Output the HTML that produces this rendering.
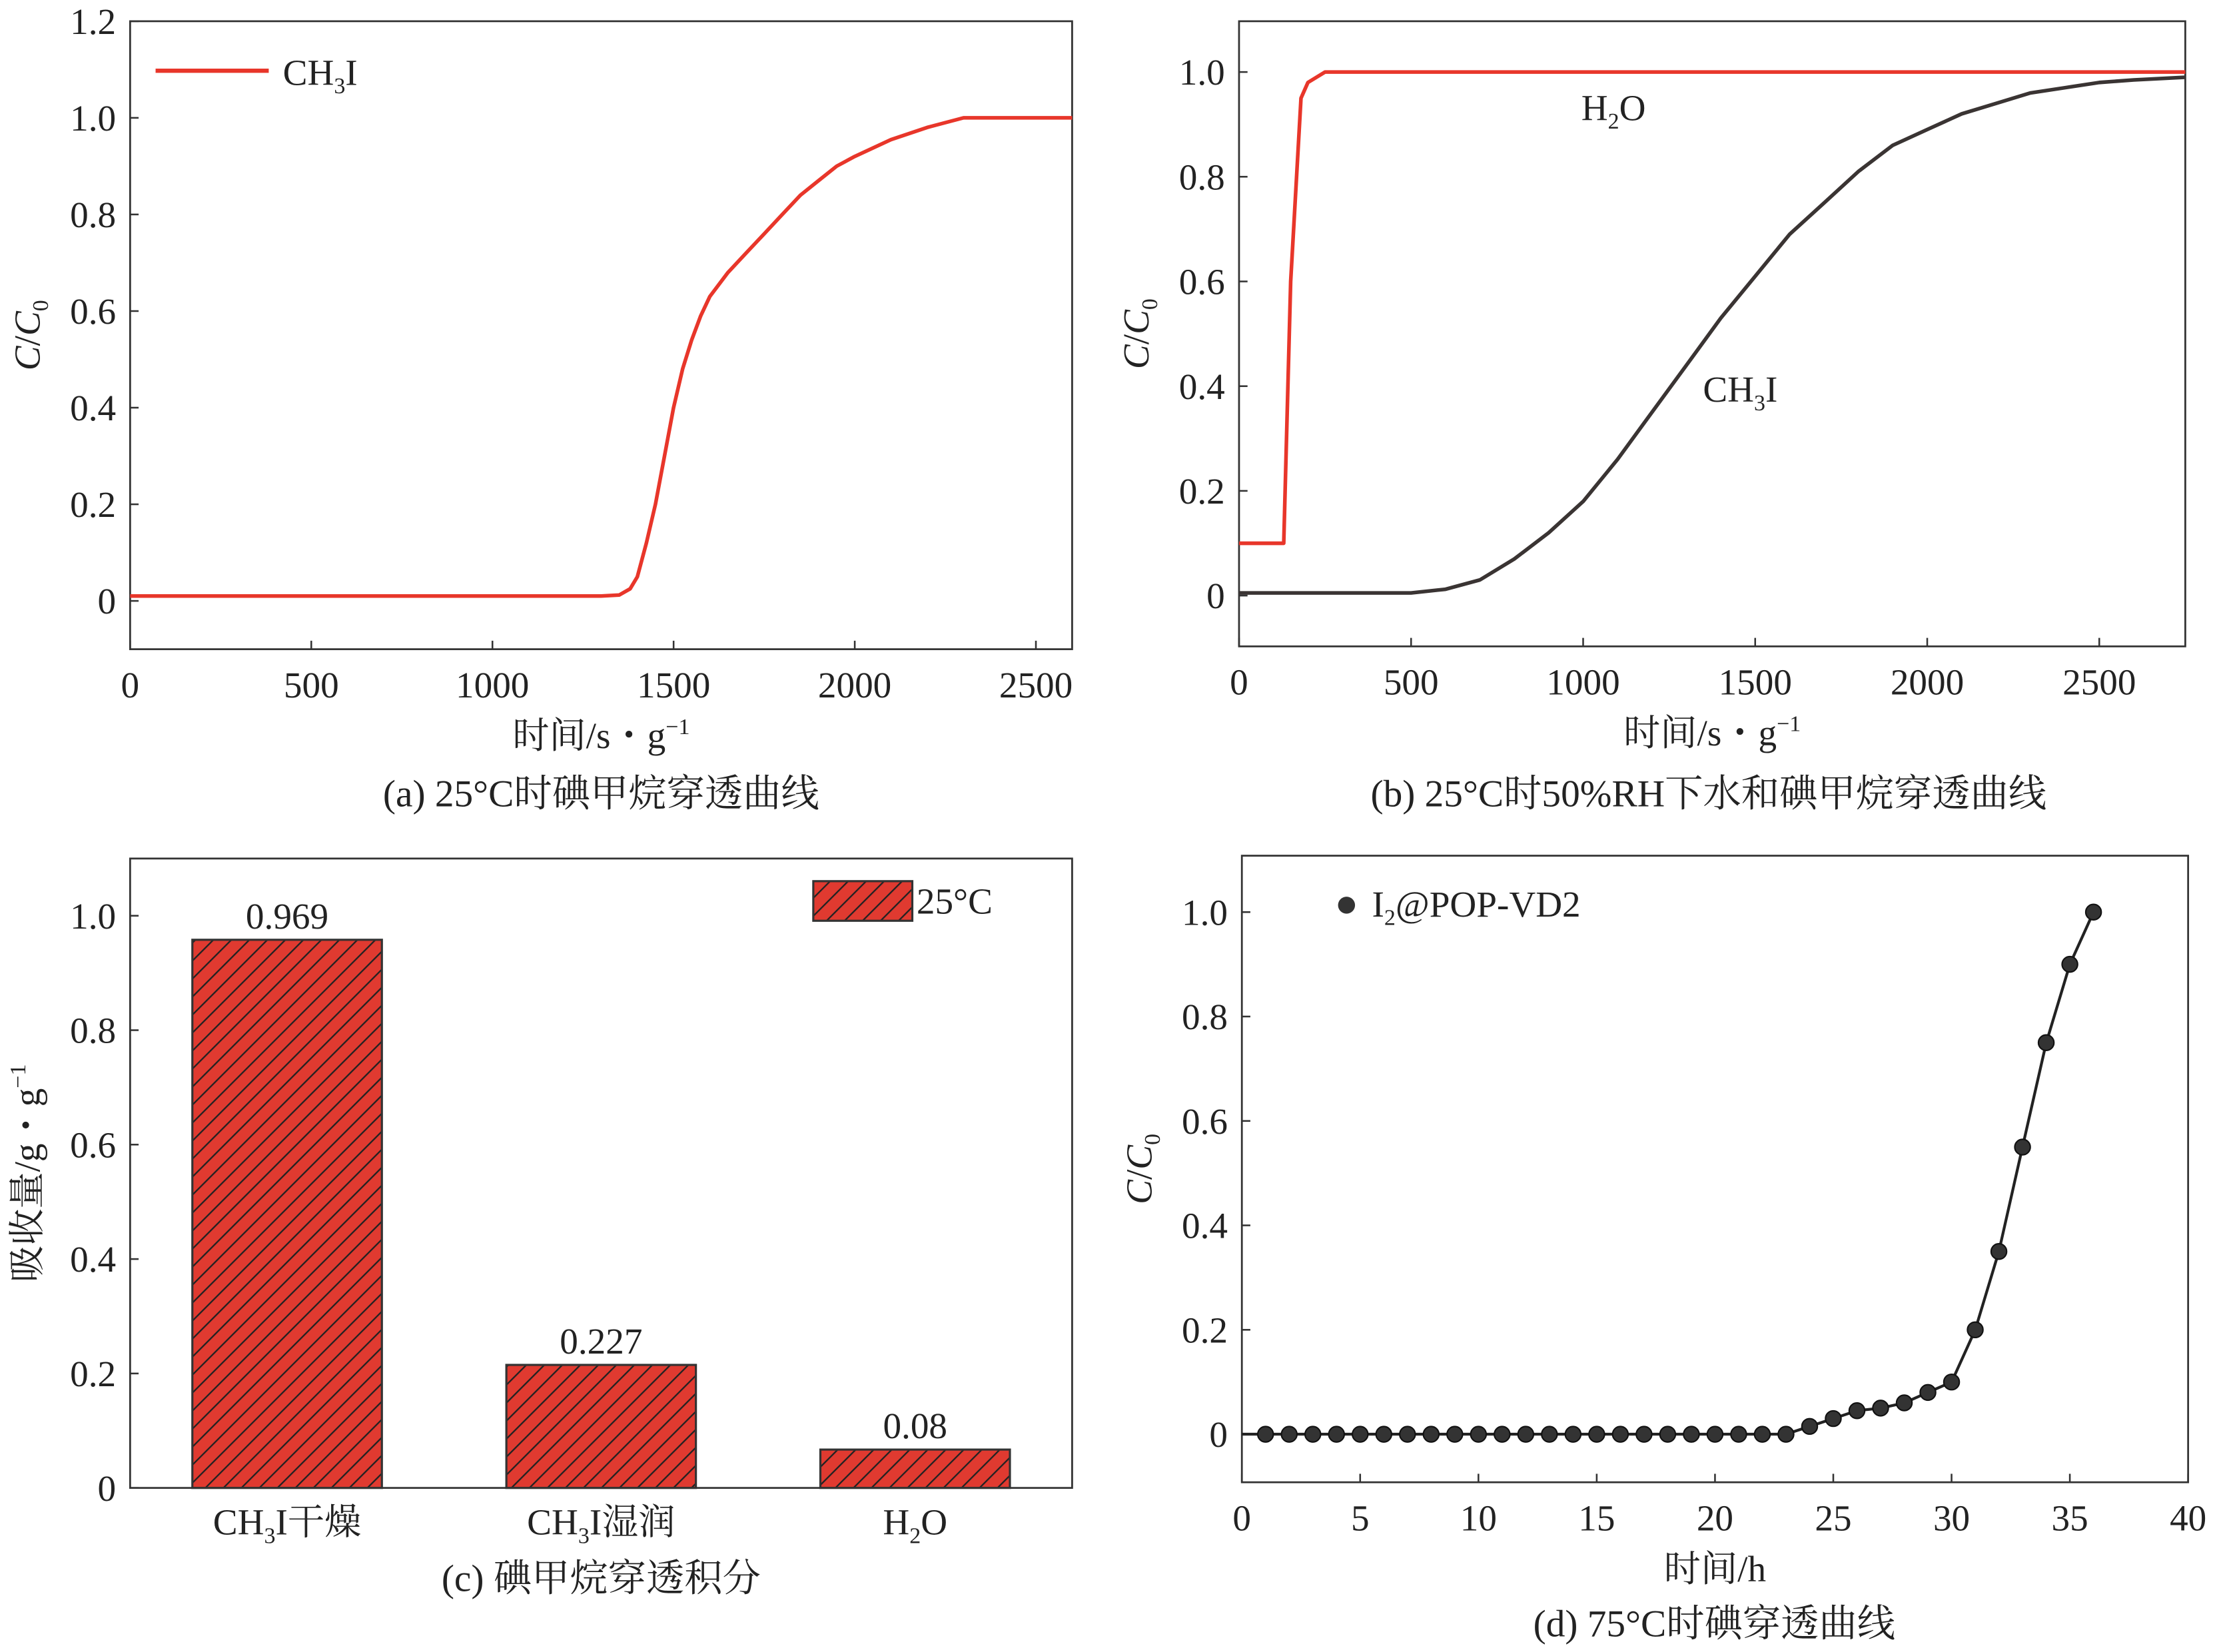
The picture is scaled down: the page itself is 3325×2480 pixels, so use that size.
<!DOCTYPE html>
<html><head><meta charset="utf-8"><style>
html,body{margin:0;padding:0;background:#fff}
svg{display:block}
text{font-family:"Liberation Serif","Noto Serif CJK SC",serif;fill:#222}
</style></head><body>
<svg id="fig" width="3325" height="2480" viewBox="0 0 1566 1168" xmlns="http://www.w3.org/2000/svg">
<defs>
<pattern id="hatch" patternUnits="userSpaceOnUse" width="9" height="9" patternTransform="rotate(45)">
<rect width="9" height="9" fill="#e03a30"/><line x1="0" y1="0" x2="0" y2="9" stroke="#222" stroke-width="2.2"/>
</pattern>
</defs>
<g id="root"></g>
</svg>
<script>
// Panel a data
const aTime=[0,1300,1350,1380,1400,1425,1450,1475,1500,1525,1550,1575,1600,1650,1700,1750,1800,1850,1900,1950,2000,2100,2200,2300,2600];
const aVal=[0.01,0.01,0.012,0.025,0.05,0.12,0.2,0.3,0.4,0.48,0.54,0.59,0.63,0.68,0.72,0.76,0.8,0.84,0.87,0.9,0.92,0.955,0.98,1.0,1.0];
// Panel b data
const bH2OTime=[0,130,150,180,200,250,2750];
const bH2OVal=[0.1,0.1,0.6,0.95,0.98,1.0,1.0];
const bCTime=[0,500,600,700,800,900,1000,1100,1200,1300,1400,1500,1600,1700,1800,1900,2000,2100,2200,2300,2400,2500,2600,2750];
const bCVal=[0.005,0.005,0.012,0.03,0.07,0.12,0.18,0.26,0.35,0.44,0.53,0.61,0.69,0.75,0.81,0.86,0.89,0.92,0.94,0.96,0.97,0.98,0.985,0.99];
// Panel c data
const cCats=["CH₃I干燥","CH₃I湿润","H₂O"];
const cVals=[0.958,0.215,0.067];
const cLabels=["0.969","0.227","0.08"];
// Panel d data
const dHours=[1,2,3,4,5,6,7,8,9,10,11,12,13,14,15,16,17,18,19,20,21,22,23,24,25,26,27,28,29,30,31,32,33,34,35,36];
const dVals=[0,0,0,0,0,0,0,0,0,0,0,0,0,0,0,0,0,0,0,0,0,0,0,0.015,0.03,0.045,0.05,0.06,0.08,0.1,0.2,0.35,0.55,0.75,0.9,1.0];
const NS="http://www.w3.org/2000/svg";
const root=document.getElementById('root');
function mk(tag,attrs,parent,txt){const e=document.createElementNS(NS,tag);for(const k in attrs)e.setAttribute(k,attrs[k]);if(txt!==undefined)e.innerHTML=txt;(parent||root).appendChild(e);return e;}
function axes(name,x0,x1,y0,y1,xmin,xmax,ymin,ymax,xticks,yticks,xlab,ylab,yfmt){
 const g=mk('g',{});
 
 
 const sx=v=>x0+(v-xmin)/(xmax-xmin)*(x1-x0);
 const sy=v=>y1-(v-ymin)/(ymax-ymin)*(y1-y0);
 const fr=mk('rect',{x:x0,y:y0,width:x1-x0,height:y1-y0,fill:'none',stroke:'#333','stroke-width':1.3},g);
 
 
 xticks.forEach(t=>{mk('line',{x1:sx(t),x2:sx(t),y1:y1,y2:y1-6,stroke:'#333','stroke-width':1.2},g);
  const tx=mk('text',{x:sx(t),y:y1+34,'font-size':26,'text-anchor':'middle'},g,String(t));
  
  });
 yticks.forEach(t=>{mk('line',{x1:x0,x2:x0+6,y1:sy(t),y2:sy(t),stroke:'#333','stroke-width':1.2},g);
  const tx=mk('text',{x:x0-10,y:sy(t)+9,'font-size':26,'text-anchor':'end'},g,yfmt(t));
  
  });
 if(xlab){const t=mk('text',{x:(x0+x1)/2,y:y1+70,'font-size':26,'text-anchor':'middle'},g,xlab);
  
  }
 const yt=mk('text',{x:0,y:0,'font-size':26,'text-anchor':'middle',transform:`translate(${x0-64},${(y0+y1)/2}) rotate(-90)`},g,ylab);
 
 
 return {g,sx,sy};
}
const f1=v=>v===0?'0':v.toFixed(1);
const CC0='<tspan font-style="italic">C</tspan>/<tspan font-style="italic">C</tspan><tspan font-size="16" dy="6">0</tspan>';
const sg='时间/s・g<tspan font-size="16" dy="-10">−1</tspan>';
function path(s,xs,ys,attrs,g,name){let d='';xs.forEach((x,i)=>{d+=(i?'L':'M')+s.sx(x).toFixed(1)+','+s.sy(ys[i]).toFixed(1);});
 const p=mk('path',Object.assign({d,fill:'none','stroke-linejoin':'round'},attrs),g);
 
 return p;}
function caption(x,y,txt,name){const t=mk('text',{x,y,'font-size':27,'text-anchor':'middle'},root,txt);
 
 }
// (a)
const A=axes('panel-a',92,758,15,459,0,2600,-0.1,1.2,[0,500,1000,1500,2000,2500],[0,0.2,0.4,0.6,0.8,1.0,1.2],sg,CC0,f1);
path(A,aTime,aVal,{stroke:'#e8362a','stroke-width':2.6},A.g,'ch3i-curve');
const la=mk('line',{x1:110,x2:190,y1:50,y2:50,stroke:'#e8362a','stroke-width':3},A.g);


const lat=mk('text',{x:200,y:60,'font-size':26},A.g,'CH<tspan font-size="16" dy="6">3</tspan><tspan dy="-6">I</tspan>');


caption(425,570,'(a) 25°C时碘甲烷穿透曲线','caption-a');
// (b)
const B=axes('panel-b',876,1545,15,457,0,2750,-0.097,1.097,[0,500,1000,1500,2000,2500],[0,0.2,0.4,0.6,0.8,1.0],sg,CC0,f1);
path(B,bCTime,bCVal,{stroke:'#3a3433','stroke-width':2.6},B.g,'ch3i-curve');
path(B,bH2OTime,bH2OVal,{stroke:'#e8362a','stroke-width':2.6},B.g,'h2o-curve');
const bl1=mk('text',{x:1118,y:85,'font-size':26},B.g,'H<tspan font-size="16" dy="6">2</tspan><tspan dy="-6">O</tspan>');


const bl2=mk('text',{x:1204,y:284,'font-size':26},B.g,'CH<tspan font-size="16" dy="6">3</tspan><tspan dy="-6">I</tspan>');


caption(1208,570,'(b) 25°C时50%RH下水和碘甲烷穿透曲线','caption-b');
// (c)
const C=axes('panel-c',92,758,607,1052,0,1,0,1.1,[],[0,0.2,0.4,0.6,0.8,1.0],null,'吸收量/g・g<tspan font-size="16" dy="-10">−1</tspan>',f1);
const catX=i=>92+(i+0.5)*(758-92)/3;
cCats.forEach((c,i)=>{const cx=catX(i);
 const r=mk('rect',{x:cx-67,y:C.sy(cVals[i]),width:134,height:C.sy(0)-C.sy(cVals[i]),fill:'url(#hatch)',stroke:'#333','stroke-width':1.5},C.g);
 
 
 const v=mk('text',{x:cx,y:C.sy(cVals[i])-8,'font-size':26,'text-anchor':'middle'},C.g,cLabels[i]);
 
 
 const t=mk('text',{x:cx,y:1085,'font-size':26,'text-anchor':'middle'},C.g,c.replace('₃','<tspan font-size="16" dy="6">3</tspan><tspan dy="-6">').replace('₂','<tspan font-size="16" dy="6">2</tspan><tspan dy="-6">')+'</tspan>');
 
 
});
const lr=mk('rect',{x:575,y:623,width:70,height:28,fill:'url(#hatch)',stroke:'#333','stroke-width':1.5},C.g);


const lt=mk('text',{x:648,y:646,'font-size':26},C.g,'25°C');


caption(425,1125,'(c) 碘甲烷穿透积分','caption-c');
// (d)
const D=axes('panel-d',878,1547,605,1048,0,40,-0.092,1.108,[0,5,10,15,20,25,30,35,40],[0,0.2,0.4,0.6,0.8,1.0],'时间/h',CC0,f1);
path(D,[0].concat(dHours),[0].concat(dVals),{stroke:'#222','stroke-width':2},D.g,'i2-line');
dHours.forEach((h,i)=>{const c=mk('circle',{cx:D.sx(h),cy:D.sy(dVals[i]),r:5.5,fill:'#333',stroke:'#111','stroke-width':1},D.g);
 
 });
const dc=mk('circle',{cx:952,cy:640,r:6,fill:'#333'},D.g);


const dt=mk('text',{x:970,y:648,'font-size':26},D.g,'I<tspan font-size="16" dy="6">2</tspan><tspan dy="-6">@POP-VD2</tspan>');


caption(1212,1157,'(d) 75°C时碘穿透曲线','caption-d');
</script>
</body></html>
